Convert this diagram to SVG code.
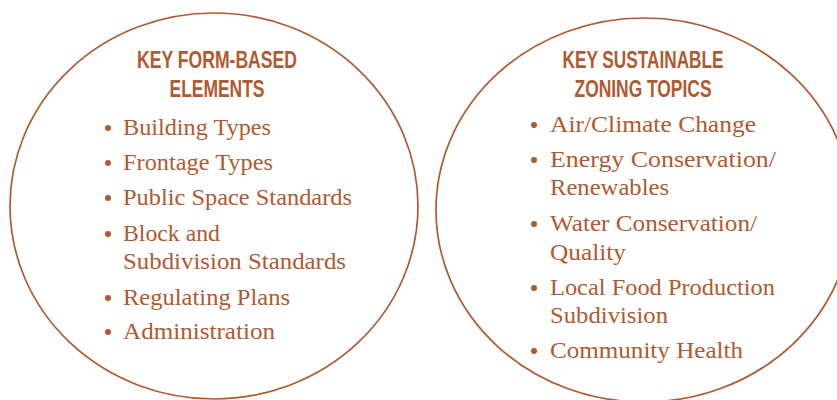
<svg xmlns="http://www.w3.org/2000/svg" width="837" height="400" viewBox="0 0 837 400">
  <style>
    .ring { fill: none; stroke: #b05a32; stroke-width: 1.7; }
    .head { font-family: "Liberation Sans", Arial, sans-serif; font-weight: bold; font-size: 23px; fill: #b05a32; text-anchor: middle; }
    .item { font-family: "Liberation Serif", "Times New Roman", serif; font-size: 23px; fill: #b05a32; }
    .dot { fill: #b05a32; }
  </style>
  <rect width="837" height="400" fill="#ffffff"/>

  <g id="form-based">
    <ellipse class="ring" cx="214" cy="206" rx="204" ry="193"/>
    <text class="head" x="217" y="68" textLength="160" lengthAdjust="spacingAndGlyphs">KEY FORM-BASED</text>
    <text class="head" x="217" y="97" textLength="95" lengthAdjust="spacingAndGlyphs">ELEMENTS</text>
    <circle class="dot" cx="108" cy="128" r="3"/>
    <text class="item" x="123" y="135" textLength="148" lengthAdjust="spacingAndGlyphs">Building Types</text>
    <circle class="dot" cx="108" cy="163" r="3"/>
    <text class="item" x="123" y="170" textLength="150" lengthAdjust="spacingAndGlyphs">Frontage Types</text>
    <circle class="dot" cx="108" cy="198" r="3"/>
    <text class="item" x="123" y="205" textLength="229" lengthAdjust="spacingAndGlyphs">Public Space Standards</text>
    <circle class="dot" cx="108" cy="234" r="3"/>
    <text class="item" x="123" y="241" textLength="97" lengthAdjust="spacingAndGlyphs">Block and</text>
    <text class="item" x="123" y="269" textLength="223" lengthAdjust="spacingAndGlyphs">Subdivision Standards</text>
    <circle class="dot" cx="108" cy="298" r="3"/>
    <text class="item" x="123" y="305" textLength="167" lengthAdjust="spacingAndGlyphs">Regulating Plans</text>
    <circle class="dot" cx="108" cy="332" r="3"/>
    <text class="item" x="123" y="339" textLength="152" lengthAdjust="spacingAndGlyphs">Administration</text>
  </g>

  <g id="sustainable">
    <ellipse class="ring" cx="644" cy="210" rx="208" ry="192"/>
    <text class="head" x="643" y="68" textLength="161" lengthAdjust="spacingAndGlyphs">KEY SUSTAINABLE</text>
    <text class="head" x="643" y="97" textLength="137" lengthAdjust="spacingAndGlyphs">ZONING TOPICS</text>
    <circle class="dot" cx="534" cy="125" r="3"/>
    <text class="item" x="550" y="132" textLength="206" lengthAdjust="spacingAndGlyphs">Air/Climate Change</text>
    <circle class="dot" cx="534" cy="160" r="3"/>
    <text class="item" x="550" y="167" textLength="226" lengthAdjust="spacingAndGlyphs">Energy Conservation/</text>
    <text class="item" x="550" y="195" textLength="119" lengthAdjust="spacingAndGlyphs">Renewables</text>
    <circle class="dot" cx="534" cy="224" r="3"/>
    <text class="item" x="550" y="231" textLength="207" lengthAdjust="spacingAndGlyphs">Water Conservation/</text>
    <text class="item" x="550" y="260" textLength="76" lengthAdjust="spacingAndGlyphs">Quality</text>
    <circle class="dot" cx="534" cy="288" r="3"/>
    <text class="item" x="550" y="295" textLength="225" lengthAdjust="spacingAndGlyphs">Local Food Production</text>
    <text class="item" x="550" y="323" textLength="118" lengthAdjust="spacingAndGlyphs">Subdivision</text>
    <circle class="dot" cx="534" cy="351" r="3"/>
    <text class="item" x="550" y="358" textLength="193" lengthAdjust="spacingAndGlyphs">Community Health</text>
  </g>
</svg>
